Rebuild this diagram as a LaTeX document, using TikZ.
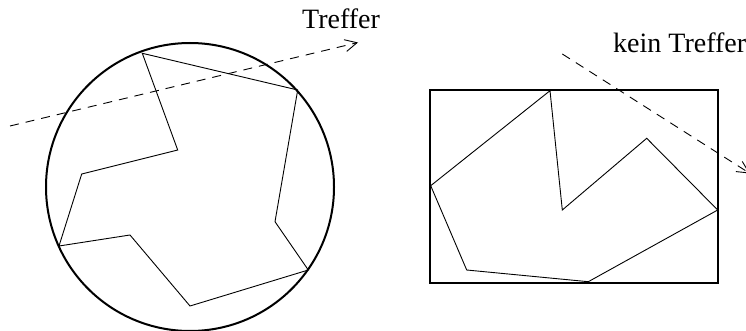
\documentclass[tikz,border=0pt]{standalone}
\usepackage{fontspec}
\setmainfont{Liberation Serif}
\usetikzlibrary{arrows.meta}
\tikzset{
  outline/.style={line width=2pt},
  poly/.style={line width=0.9pt, line join=miter},
  ray/.style={line width=0.9pt, dash pattern=on 9pt off 7pt, -{Straight Barb[length=12pt,width=12pt,line width=0.9pt]}},
  lbl/.style={anchor=base west, inner sep=0pt, font=\fontsize{28}{33}\selectfont}
}
\begin{document}
\begin{tikzpicture}[x=1pt,y=-1pt]
\useasboundingbox (0,0) rectangle (746,331);
% left: bounding circle
\coordinate (cc) at (190,187);
\draw[outline] (cc) circle[radius=144];
\coordinate (a1) at (142.3,53.3);
\coordinate (a2) at (297.7,90);
\coordinate (a3) at (275,221.7);
\coordinate (a4) at (308.3,270);
\coordinate (a5) at (190,306);
\coordinate (a6) at (130,235);
\coordinate (a7) at (59,246);
\coordinate (a8) at (81.7,174);
\coordinate (a9) at (177.7,150);
\draw[poly] (a1)--(a2)--(a3)--(a4)--(a5)--(a6)--(a7)--(a8)--(a9)--cycle;
\coordinate (r1s) at (10,126);
\coordinate (r1e) at (358,42.5);
\draw[ray] (r1s) -- (r1e);
\node[lbl] (t1) at (302,29) {Treffer};
% right: bounding box
\coordinate (bl) at (430,90);
\coordinate (br) at (718.3,282.7);
\draw[outline] (bl) rectangle (br);
\coordinate (b1) at (550,90.7);
\coordinate (b2) at (562.3,210);
\coordinate (b3) at (646.7,138.3);
\coordinate (b4) at (717.7,210);
\coordinate (b5) at (588.3,281.7);
\coordinate (b6) at (466.7,270);
\coordinate (b7) at (430.7,185.7);
\draw[poly] (b1)--(b2)--(b3)--(b4)--(b5)--(b6)--(b7)--cycle;
\coordinate (r2s) at (562.3,54);
\coordinate (r2e) at (750,173.5);
\draw[ray] (r2s) -- (r2e);
\node[lbl] (t2) at (613,53) {kein Treffer};
\end{tikzpicture}
\end{document}
